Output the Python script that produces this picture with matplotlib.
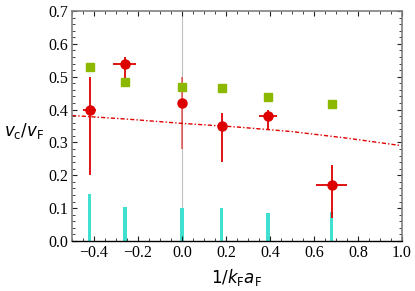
import numpy as np
import matplotlib
matplotlib.use("Agg")
import matplotlib.pyplot as plt
from matplotlib.ticker import MultipleLocator

# red points (measured), with asymmetric y errors and x errors
x_red = [-0.42, -0.26, 0.0, 0.18, 0.39, 0.68]
y_red = [0.40, 0.54, 0.42, 0.35, 0.38, 0.17]
yerr_lo = [0.20, 0.06, 0.14, 0.11, 0.04, 0.10]
yerr_hi = [0.10, 0.02, 0.08, 0.04, 0.02, 0.06]
xerr_red = [0.03, 0.053, 0.0, 0.0, 0.04, 0.07]

# green squares
x_green = [-0.42, -0.26, 0.0, 0.18, 0.39, 0.68]
y_green = [0.53, 0.485, 0.47, 0.465, 0.437, 0.417]

# cyan bars
x_bar = [-0.42, -0.26, 0.0, 0.18, 0.39, 0.68]
h_bar = [0.142, 0.104, 0.101, 0.101, 0.086, 0.089]

# theory curve (dash-dot)
x_line = [-0.5, -0.25, 0.0, 0.25, 0.5, 0.75, 1.0]
y_line = [0.382, 0.371, 0.358, 0.347, 0.333, 0.313, 0.290]

plt.rcParams['mathtext.fontset'] = 'dejavusans'

fig = plt.figure(figsize=(4.15, 2.91), dpi=100)
ax = fig.add_axes([0.1735, 0.1718, 0.7952, 0.7904])

ax.axvline(0, color='#c0c0c0', lw=0.8, zorder=0)

ax.bar(x_bar, h_bar, width=0.016, color='#40e0d0', zorder=1)

ax.plot(x_line, y_line, color='#e00000', lw=1.0, dashes=(3, 1.5, 1, 1.5), zorder=2)

red_alpha = [1, 1, 0.55, 1, 1, 1]
for i in range(len(x_red)):
    ax.errorbar(x_red[i], y_red[i],
                yerr=[[yerr_lo[i]], [yerr_hi[i]]],
                xerr=xerr_red[i] if xerr_red[i] > 0 else None,
                fmt='none', ecolor='#dd0000', elinewidth=1.3,
                alpha=red_alpha[i], zorder=3)
ax.plot(x_red, y_red, 'o', color='#dd0000', ms=6.5, zorder=4)

ax.plot(x_green, y_green, 's', color='#8cb800', ms=6, zorder=4)

ax.set_xlim(-0.5, 1.0)
ax.set_ylim(0, 0.7)

ax.xaxis.set_major_locator(MultipleLocator(0.2))
ax.xaxis.set_minor_locator(MultipleLocator(0.05))
ax.yaxis.set_major_locator(MultipleLocator(0.1))
ax.yaxis.set_minor_locator(MultipleLocator(0.02))
ax.xaxis.set_major_formatter(plt.FuncFormatter(lambda v, p: ('%.1f' % v).replace('-', '\u2212')))
ax.yaxis.set_major_formatter(plt.FuncFormatter(lambda v, p: '%.1f' % v))

ax.tick_params(which='both', direction='in', top=True, right=True,
               color='#222222', labelsize=11.5)
ax.tick_params(which='major', length=3.5, width=0.8, pad=3)
ax.tick_params(which='minor', length=2, width=0.6)
for lab in ax.get_xticklabels() + ax.get_yticklabels():
    lab.set_fontfamily('Liberation Serif')

for s in ['top', 'right', 'left']:
    ax.spines[s].set_color('#808080')
    ax.spines[s].set_linewidth(1.2)
ax.spines['bottom'].set_color('#000000')
ax.spines['bottom'].set_linewidth(1.0)

ax.set_xlabel(r'$1/k_\mathrm{F}a_\mathrm{F}$', fontsize=12, va='center')
ax.set_ylabel(r'$v_\mathrm{c}/v_\mathrm{F}$', fontsize=12, rotation=0, va='center')
ax.yaxis.set_label_coords(-0.145, 0.48)
ax.xaxis.set_label_coords(0.5, -0.157)

fig.savefig('out.png', dpi=100)
